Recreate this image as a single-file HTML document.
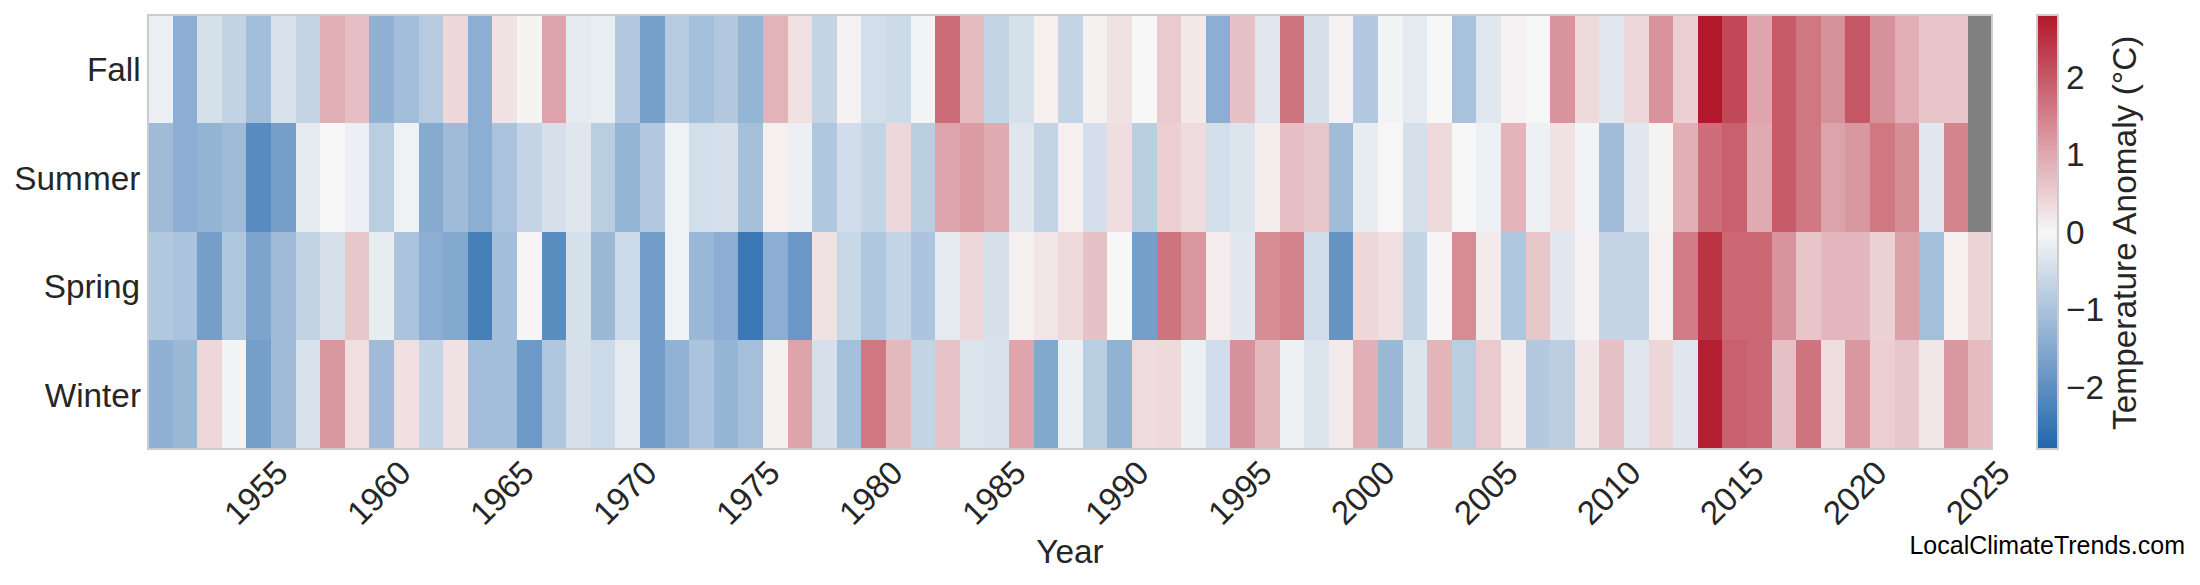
<!DOCTYPE html><html><head><meta charset="utf-8"><title>Seasonal Temperature Anomaly</title>
<style>html,body{margin:0;padding:0;background:#fff}body{width:2200px;height:585px;overflow:hidden;position:relative;font-family:"Liberation Sans",Arial,sans-serif;color:#262626}svg{position:absolute;left:0;top:0;display:block}text{font-family:"Liberation Sans",Arial,sans-serif;fill:#262626}</style></head><body>
<svg width="2200" height="585" viewBox="0 0 2200 585">
<defs><linearGradient id="cb" x1="0" y1="0" x2="0" y2="1"><stop offset="0" stop-color="#b2182b"/><stop offset="0.5" stop-color="#f7f7f7"/><stop offset="1" stop-color="#2166ac"/></linearGradient></defs>
<rect x="0" y="0" width="2200" height="585" fill="#fff"/>
<g shape-rendering="crispEdges">
<rect x="148" y="15" width="25" height="108" fill="#eceff3"/>
<rect x="173" y="15" width="24" height="108" fill="#8caed2"/>
<rect x="197" y="15" width="25" height="108" fill="#d5e0eb"/>
<rect x="222" y="15" width="24" height="108" fill="#c2d3e4"/>
<rect x="246" y="15" width="25" height="108" fill="#a3beda"/>
<rect x="271" y="15" width="25" height="108" fill="#d8e2ec"/>
<rect x="296" y="15" width="24" height="108" fill="#c5d5e6"/>
<rect x="320" y="15" width="25" height="108" fill="#e1afb5"/>
<rect x="345" y="15" width="24" height="108" fill="#e6bfc4"/>
<rect x="369" y="15" width="25" height="108" fill="#90b1d3"/>
<rect x="394" y="15" width="25" height="108" fill="#a3beda"/>
<rect x="419" y="15" width="24" height="108" fill="#b6cbe0"/>
<rect x="443" y="15" width="25" height="108" fill="#edd7da"/>
<rect x="468" y="15" width="24" height="108" fill="#8caed2"/>
<rect x="492" y="15" width="25" height="108" fill="#f1e3e5"/>
<rect x="517" y="15" width="25" height="108" fill="#f6f3f3"/>
<rect x="542" y="15" width="24" height="108" fill="#dda3aa"/>
<rect x="566" y="15" width="25" height="108" fill="#e4eaf0"/>
<rect x="591" y="15" width="24" height="108" fill="#e9eef2"/>
<rect x="615" y="15" width="25" height="108" fill="#b4c9df"/>
<rect x="640" y="15" width="25" height="108" fill="#77a0ca"/>
<rect x="665" y="15" width="24" height="108" fill="#b6cbe0"/>
<rect x="689" y="15" width="25" height="108" fill="#a4bfda"/>
<rect x="714" y="15" width="24" height="108" fill="#b2c8df"/>
<rect x="738" y="15" width="25" height="108" fill="#95b5d5"/>
<rect x="763" y="15" width="25" height="108" fill="#e2b3b9"/>
<rect x="788" y="15" width="24" height="108" fill="#f0e1e3"/>
<rect x="812" y="15" width="25" height="108" fill="#c3d4e5"/>
<rect x="837" y="15" width="24" height="108" fill="#f6f2f3"/>
<rect x="861" y="15" width="25" height="108" fill="#d2deea"/>
<rect x="886" y="15" width="25" height="108" fill="#cddbe8"/>
<rect x="911" y="15" width="24" height="108" fill="#f2f3f5"/>
<rect x="935" y="15" width="25" height="108" fill="#cc6c78"/>
<rect x="960" y="15" width="24" height="108" fill="#e5bbc0"/>
<rect x="984" y="15" width="25" height="108" fill="#c3d4e5"/>
<rect x="1009" y="15" width="25" height="108" fill="#d5e0eb"/>
<rect x="1034" y="15" width="24" height="108" fill="#f5eff0"/>
<rect x="1058" y="15" width="25" height="108" fill="#c3d4e5"/>
<rect x="1083" y="15" width="24" height="108" fill="#f5f1f1"/>
<rect x="1107" y="15" width="25" height="108" fill="#f0e1e3"/>
<rect x="1132" y="15" width="25" height="108" fill="#f7f7f7"/>
<rect x="1157" y="15" width="24" height="108" fill="#e9cbcf"/>
<rect x="1181" y="15" width="25" height="108" fill="#f3e9ea"/>
<rect x="1206" y="15" width="24" height="108" fill="#8caed2"/>
<rect x="1230" y="15" width="25" height="108" fill="#e6c1c5"/>
<rect x="1255" y="15" width="25" height="108" fill="#e0e7ef"/>
<rect x="1280" y="15" width="24" height="108" fill="#ce747f"/>
<rect x="1304" y="15" width="25" height="108" fill="#d5e0eb"/>
<rect x="1329" y="15" width="24" height="108" fill="#f6f2f3"/>
<rect x="1353" y="15" width="25" height="108" fill="#b4c9df"/>
<rect x="1378" y="15" width="25" height="108" fill="#f2f4f5"/>
<rect x="1403" y="15" width="24" height="108" fill="#e4eaf0"/>
<rect x="1427" y="15" width="25" height="108" fill="#f7f7f7"/>
<rect x="1452" y="15" width="24" height="108" fill="#a8c2db"/>
<rect x="1476" y="15" width="25" height="108" fill="#e0e7ef"/>
<rect x="1501" y="15" width="25" height="108" fill="#f6f2f3"/>
<rect x="1526" y="15" width="24" height="108" fill="#f5f6f6"/>
<rect x="1550" y="15" width="25" height="108" fill="#d8939c"/>
<rect x="1575" y="15" width="24" height="108" fill="#eed9db"/>
<rect x="1599" y="15" width="25" height="108" fill="#e0e7ef"/>
<rect x="1624" y="15" width="25" height="108" fill="#edd7da"/>
<rect x="1649" y="15" width="24" height="108" fill="#d8939c"/>
<rect x="1673" y="15" width="25" height="108" fill="#ebcfd3"/>
<rect x="1698" y="15" width="24" height="108" fill="#b2182b"/>
<rect x="1722" y="15" width="25" height="108" fill="#c14857"/>
<rect x="1747" y="15" width="25" height="108" fill="#dea5ac"/>
<rect x="1772" y="15" width="24" height="108" fill="#c75c69"/>
<rect x="1796" y="15" width="25" height="108" fill="#d07882"/>
<rect x="1821" y="15" width="24" height="108" fill="#d7919a"/>
<rect x="1845" y="15" width="25" height="108" fill="#c65865"/>
<rect x="1870" y="15" width="25" height="108" fill="#d7919a"/>
<rect x="1895" y="15" width="24" height="108" fill="#e1afb5"/>
<rect x="1919" y="15" width="25" height="108" fill="#e7c5c9"/>
<rect x="1944" y="15" width="24" height="108" fill="#e7c5c9"/>
<rect x="1968" y="15" width="25" height="108" fill="#808080"/>
<rect x="148" y="123" width="25" height="109" fill="#9fbbd8"/>
<rect x="173" y="123" width="24" height="109" fill="#8caed2"/>
<rect x="197" y="123" width="25" height="109" fill="#94b4d4"/>
<rect x="222" y="123" width="24" height="109" fill="#9fbbd8"/>
<rect x="246" y="123" width="25" height="109" fill="#588bbf"/>
<rect x="271" y="123" width="25" height="109" fill="#759fc9"/>
<rect x="296" y="123" width="24" height="109" fill="#e4eaf0"/>
<rect x="320" y="123" width="25" height="109" fill="#f7f7f7"/>
<rect x="345" y="123" width="24" height="109" fill="#eceff3"/>
<rect x="369" y="123" width="25" height="109" fill="#bacee2"/>
<rect x="394" y="123" width="25" height="109" fill="#eff2f4"/>
<rect x="419" y="123" width="24" height="109" fill="#87abd0"/>
<rect x="443" y="123" width="25" height="109" fill="#9fbbd8"/>
<rect x="468" y="123" width="24" height="109" fill="#8caed2"/>
<rect x="492" y="123" width="25" height="109" fill="#abc3dc"/>
<rect x="517" y="123" width="25" height="109" fill="#c5d5e6"/>
<rect x="542" y="123" width="24" height="109" fill="#d5e0eb"/>
<rect x="566" y="123" width="25" height="109" fill="#dfe6ee"/>
<rect x="591" y="123" width="24" height="109" fill="#bacee2"/>
<rect x="615" y="123" width="25" height="109" fill="#95b5d5"/>
<rect x="640" y="123" width="25" height="109" fill="#b4c9df"/>
<rect x="665" y="123" width="24" height="109" fill="#eff2f4"/>
<rect x="689" y="123" width="25" height="109" fill="#d2deea"/>
<rect x="714" y="123" width="24" height="109" fill="#d5e0eb"/>
<rect x="738" y="123" width="25" height="109" fill="#a5c0da"/>
<rect x="763" y="123" width="25" height="109" fill="#f5eff0"/>
<rect x="788" y="123" width="24" height="109" fill="#eceff3"/>
<rect x="812" y="123" width="25" height="109" fill="#aec6de"/>
<rect x="837" y="123" width="24" height="109" fill="#d1ddea"/>
<rect x="861" y="123" width="25" height="109" fill="#c3d4e5"/>
<rect x="886" y="123" width="25" height="109" fill="#edd7da"/>
<rect x="911" y="123" width="24" height="109" fill="#bacee2"/>
<rect x="935" y="123" width="25" height="109" fill="#dea5ac"/>
<rect x="960" y="123" width="24" height="109" fill="#db9ba3"/>
<rect x="984" y="123" width="25" height="109" fill="#dfaab0"/>
<rect x="1009" y="123" width="25" height="109" fill="#dfe6ee"/>
<rect x="1034" y="123" width="24" height="109" fill="#c3d4e5"/>
<rect x="1058" y="123" width="25" height="109" fill="#f5eff0"/>
<rect x="1083" y="123" width="24" height="109" fill="#d4dfeb"/>
<rect x="1107" y="123" width="25" height="109" fill="#efdddf"/>
<rect x="1132" y="123" width="25" height="109" fill="#bacee2"/>
<rect x="1157" y="123" width="24" height="109" fill="#ebcfd3"/>
<rect x="1181" y="123" width="25" height="109" fill="#eedbde"/>
<rect x="1206" y="123" width="24" height="109" fill="#d2deea"/>
<rect x="1230" y="123" width="25" height="109" fill="#dce5ee"/>
<rect x="1255" y="123" width="25" height="109" fill="#f4edee"/>
<rect x="1280" y="123" width="24" height="109" fill="#e6bfc4"/>
<rect x="1304" y="123" width="25" height="109" fill="#e8c7cb"/>
<rect x="1329" y="123" width="24" height="109" fill="#a1bcd9"/>
<rect x="1353" y="123" width="25" height="109" fill="#e8edf2"/>
<rect x="1378" y="123" width="25" height="109" fill="#f7f5f6"/>
<rect x="1403" y="123" width="24" height="109" fill="#d5e0eb"/>
<rect x="1427" y="123" width="25" height="109" fill="#eed9db"/>
<rect x="1452" y="123" width="24" height="109" fill="#f7f7f7"/>
<rect x="1476" y="123" width="25" height="109" fill="#eef1f4"/>
<rect x="1501" y="123" width="25" height="109" fill="#e3b5bb"/>
<rect x="1526" y="123" width="24" height="109" fill="#eef1f4"/>
<rect x="1550" y="123" width="25" height="109" fill="#f0e1e3"/>
<rect x="1575" y="123" width="24" height="109" fill="#f1f3f5"/>
<rect x="1599" y="123" width="25" height="109" fill="#a1bcd9"/>
<rect x="1624" y="123" width="25" height="109" fill="#e0e7ef"/>
<rect x="1649" y="123" width="24" height="109" fill="#f6f3f3"/>
<rect x="1673" y="123" width="25" height="109" fill="#e1afb5"/>
<rect x="1698" y="123" width="24" height="109" fill="#cd6e7a"/>
<rect x="1722" y="123" width="25" height="109" fill="#c8606d"/>
<rect x="1747" y="123" width="25" height="109" fill="#dfaab0"/>
<rect x="1772" y="123" width="24" height="109" fill="#c75c69"/>
<rect x="1796" y="123" width="25" height="109" fill="#d07882"/>
<rect x="1821" y="123" width="24" height="109" fill="#dda3aa"/>
<rect x="1845" y="123" width="25" height="109" fill="#d997a0"/>
<rect x="1870" y="123" width="25" height="109" fill="#d07882"/>
<rect x="1895" y="123" width="24" height="109" fill="#d68d96"/>
<rect x="1919" y="123" width="25" height="109" fill="#e2e8f0"/>
<rect x="1944" y="123" width="24" height="109" fill="#d3848d"/>
<rect x="1968" y="123" width="25" height="109" fill="#808080"/>
<rect x="148" y="232" width="25" height="108" fill="#b2c8df"/>
<rect x="173" y="232" width="24" height="108" fill="#abc3dc"/>
<rect x="197" y="232" width="25" height="108" fill="#759fc9"/>
<rect x="222" y="232" width="24" height="108" fill="#aec6de"/>
<rect x="246" y="232" width="25" height="108" fill="#7da4cc"/>
<rect x="271" y="232" width="25" height="108" fill="#9fbbd8"/>
<rect x="296" y="232" width="24" height="108" fill="#c2d3e4"/>
<rect x="320" y="232" width="25" height="108" fill="#d5e0eb"/>
<rect x="345" y="232" width="24" height="108" fill="#e8c7cb"/>
<rect x="369" y="232" width="25" height="108" fill="#e8edf2"/>
<rect x="394" y="232" width="25" height="108" fill="#abc3dc"/>
<rect x="419" y="232" width="24" height="108" fill="#8caed2"/>
<rect x="443" y="232" width="25" height="108" fill="#84a9cf"/>
<rect x="468" y="232" width="24" height="108" fill="#4780b9"/>
<rect x="492" y="232" width="25" height="108" fill="#a3beda"/>
<rect x="517" y="232" width="25" height="108" fill="#f6f4f4"/>
<rect x="542" y="232" width="24" height="108" fill="#5a8dc0"/>
<rect x="566" y="232" width="25" height="108" fill="#d5e0eb"/>
<rect x="591" y="232" width="24" height="108" fill="#9bb9d7"/>
<rect x="615" y="232" width="25" height="108" fill="#cbd9e8"/>
<rect x="640" y="232" width="25" height="108" fill="#739dc9"/>
<rect x="665" y="232" width="24" height="108" fill="#eff2f4"/>
<rect x="689" y="232" width="25" height="108" fill="#99b7d6"/>
<rect x="714" y="232" width="24" height="108" fill="#8caed2"/>
<rect x="738" y="232" width="25" height="108" fill="#3c78b5"/>
<rect x="763" y="232" width="25" height="108" fill="#8caed2"/>
<rect x="788" y="232" width="24" height="108" fill="#6b98c6"/>
<rect x="812" y="232" width="25" height="108" fill="#f0e1e3"/>
<rect x="837" y="232" width="24" height="108" fill="#c8d7e6"/>
<rect x="861" y="232" width="25" height="108" fill="#aec6de"/>
<rect x="886" y="232" width="25" height="108" fill="#c3d4e5"/>
<rect x="911" y="232" width="24" height="108" fill="#acc4dd"/>
<rect x="935" y="232" width="25" height="108" fill="#e4eaf0"/>
<rect x="960" y="232" width="24" height="108" fill="#edd7da"/>
<rect x="984" y="232" width="25" height="108" fill="#d7e1ec"/>
<rect x="1009" y="232" width="25" height="108" fill="#f5eff0"/>
<rect x="1034" y="232" width="24" height="108" fill="#f2e5e7"/>
<rect x="1058" y="232" width="25" height="108" fill="#eed9db"/>
<rect x="1083" y="232" width="24" height="108" fill="#e6c1c5"/>
<rect x="1107" y="232" width="25" height="108" fill="#f7f7f7"/>
<rect x="1132" y="232" width="25" height="108" fill="#759fc9"/>
<rect x="1157" y="232" width="24" height="108" fill="#ce747f"/>
<rect x="1181" y="232" width="25" height="108" fill="#d997a0"/>
<rect x="1206" y="232" width="24" height="108" fill="#f3ebec"/>
<rect x="1230" y="232" width="25" height="108" fill="#e2e8f0"/>
<rect x="1255" y="232" width="25" height="108" fill="#d68d96"/>
<rect x="1280" y="232" width="24" height="108" fill="#d3818b"/>
<rect x="1304" y="232" width="25" height="108" fill="#d1ddea"/>
<rect x="1329" y="232" width="24" height="108" fill="#6695c4"/>
<rect x="1353" y="232" width="25" height="108" fill="#edd7da"/>
<rect x="1378" y="232" width="25" height="108" fill="#f0dfe1"/>
<rect x="1403" y="232" width="24" height="108" fill="#c3d4e5"/>
<rect x="1427" y="232" width="25" height="108" fill="#f6f4f4"/>
<rect x="1452" y="232" width="24" height="108" fill="#d68b95"/>
<rect x="1476" y="232" width="25" height="108" fill="#f3eaeb"/>
<rect x="1501" y="232" width="25" height="108" fill="#aec6de"/>
<rect x="1526" y="232" width="24" height="108" fill="#e8c7cb"/>
<rect x="1550" y="232" width="25" height="108" fill="#e0e7ef"/>
<rect x="1575" y="232" width="24" height="108" fill="#f6f2f3"/>
<rect x="1599" y="232" width="25" height="108" fill="#c5d5e5"/>
<rect x="1624" y="232" width="25" height="108" fill="#c5d5e5"/>
<rect x="1649" y="232" width="24" height="108" fill="#f5eff0"/>
<rect x="1673" y="232" width="25" height="108" fill="#d17c86"/>
<rect x="1698" y="232" width="24" height="108" fill="#bb3444"/>
<rect x="1722" y="232" width="25" height="108" fill="#cb6874"/>
<rect x="1747" y="232" width="25" height="108" fill="#cb6874"/>
<rect x="1772" y="232" width="24" height="108" fill="#d8939c"/>
<rect x="1796" y="232" width="25" height="108" fill="#e7c5c9"/>
<rect x="1821" y="232" width="24" height="108" fill="#e3b7bd"/>
<rect x="1845" y="232" width="25" height="108" fill="#e3b7bd"/>
<rect x="1870" y="232" width="25" height="108" fill="#ebd2d5"/>
<rect x="1895" y="232" width="24" height="108" fill="#dda2a9"/>
<rect x="1919" y="232" width="25" height="108" fill="#a4bfda"/>
<rect x="1944" y="232" width="24" height="108" fill="#f5eff0"/>
<rect x="1968" y="232" width="25" height="108" fill="#ecd3d6"/>
<rect x="148" y="340" width="25" height="109" fill="#90b1d3"/>
<rect x="173" y="340" width="24" height="109" fill="#9bb9d7"/>
<rect x="197" y="340" width="25" height="109" fill="#edd7da"/>
<rect x="222" y="340" width="24" height="109" fill="#f3f4f6"/>
<rect x="246" y="340" width="25" height="109" fill="#759fc9"/>
<rect x="271" y="340" width="25" height="109" fill="#9fbbd8"/>
<rect x="296" y="340" width="24" height="109" fill="#d8e2ec"/>
<rect x="320" y="340" width="25" height="109" fill="#d997a0"/>
<rect x="345" y="340" width="24" height="109" fill="#f0dfe1"/>
<rect x="369" y="340" width="25" height="109" fill="#9fbbd8"/>
<rect x="394" y="340" width="25" height="109" fill="#f0dfe1"/>
<rect x="419" y="340" width="24" height="109" fill="#c5d5e6"/>
<rect x="443" y="340" width="25" height="109" fill="#f1e3e5"/>
<rect x="468" y="340" width="24" height="109" fill="#a3beda"/>
<rect x="492" y="340" width="25" height="109" fill="#a3beda"/>
<rect x="517" y="340" width="25" height="109" fill="#6d9ac7"/>
<rect x="542" y="340" width="24" height="109" fill="#aec6de"/>
<rect x="566" y="340" width="25" height="109" fill="#d5e0eb"/>
<rect x="591" y="340" width="24" height="109" fill="#cbd9e8"/>
<rect x="615" y="340" width="25" height="109" fill="#e4eaf0"/>
<rect x="640" y="340" width="25" height="109" fill="#739dc9"/>
<rect x="665" y="340" width="24" height="109" fill="#91b2d3"/>
<rect x="689" y="340" width="25" height="109" fill="#abc3dc"/>
<rect x="714" y="340" width="24" height="109" fill="#95b5d5"/>
<rect x="738" y="340" width="25" height="109" fill="#a4bfda"/>
<rect x="763" y="340" width="25" height="109" fill="#f5f1f1"/>
<rect x="788" y="340" width="24" height="109" fill="#dda3aa"/>
<rect x="812" y="340" width="25" height="109" fill="#d5e0eb"/>
<rect x="837" y="340" width="24" height="109" fill="#a4bfda"/>
<rect x="861" y="340" width="25" height="109" fill="#d07882"/>
<rect x="886" y="340" width="25" height="109" fill="#e4b9be"/>
<rect x="911" y="340" width="24" height="109" fill="#c3d4e5"/>
<rect x="935" y="340" width="25" height="109" fill="#e7c3c8"/>
<rect x="960" y="340" width="24" height="109" fill="#dce5ee"/>
<rect x="984" y="340" width="25" height="109" fill="#d8e2ec"/>
<rect x="1009" y="340" width="25" height="109" fill="#dea5ac"/>
<rect x="1034" y="340" width="24" height="109" fill="#83a8ce"/>
<rect x="1058" y="340" width="25" height="109" fill="#ecf0f3"/>
<rect x="1083" y="340" width="24" height="109" fill="#bacee2"/>
<rect x="1107" y="340" width="25" height="109" fill="#91b2d3"/>
<rect x="1132" y="340" width="25" height="109" fill="#eedbde"/>
<rect x="1157" y="340" width="24" height="109" fill="#eed9db"/>
<rect x="1181" y="340" width="25" height="109" fill="#ecf0f3"/>
<rect x="1206" y="340" width="24" height="109" fill="#d1ddea"/>
<rect x="1230" y="340" width="25" height="109" fill="#d7919a"/>
<rect x="1255" y="340" width="25" height="109" fill="#e4b9be"/>
<rect x="1280" y="340" width="24" height="109" fill="#eef1f4"/>
<rect x="1304" y="340" width="25" height="109" fill="#dce5ee"/>
<rect x="1329" y="340" width="24" height="109" fill="#f3eaeb"/>
<rect x="1353" y="340" width="25" height="109" fill="#e1afb5"/>
<rect x="1378" y="340" width="25" height="109" fill="#9bb9d7"/>
<rect x="1403" y="340" width="24" height="109" fill="#dce5ee"/>
<rect x="1427" y="340" width="25" height="109" fill="#e3b5bb"/>
<rect x="1452" y="340" width="24" height="109" fill="#bacee2"/>
<rect x="1476" y="340" width="25" height="109" fill="#e9cbcf"/>
<rect x="1501" y="340" width="25" height="109" fill="#f4edee"/>
<rect x="1526" y="340" width="24" height="109" fill="#b4c9df"/>
<rect x="1550" y="340" width="25" height="109" fill="#bccfe2"/>
<rect x="1575" y="340" width="24" height="109" fill="#f2e7e8"/>
<rect x="1599" y="340" width="25" height="109" fill="#e6c1c5"/>
<rect x="1624" y="340" width="25" height="109" fill="#dfe6ee"/>
<rect x="1649" y="340" width="24" height="109" fill="#edd6d8"/>
<rect x="1673" y="340" width="25" height="109" fill="#dfe6ee"/>
<rect x="1698" y="340" width="24" height="109" fill="#b41e31"/>
<rect x="1722" y="340" width="25" height="109" fill="#c8606d"/>
<rect x="1747" y="340" width="25" height="109" fill="#cb6874"/>
<rect x="1772" y="340" width="24" height="109" fill="#e6c1c5"/>
<rect x="1796" y="340" width="25" height="109" fill="#ce747f"/>
<rect x="1821" y="340" width="24" height="109" fill="#efdee0"/>
<rect x="1845" y="340" width="25" height="109" fill="#d997a0"/>
<rect x="1870" y="340" width="25" height="109" fill="#ebcfd3"/>
<rect x="1895" y="340" width="24" height="109" fill="#e8c7cb"/>
<rect x="1919" y="340" width="25" height="109" fill="#f2e7e8"/>
<rect x="1944" y="340" width="24" height="109" fill="#d997a0"/>
<rect x="1968" y="340" width="25" height="109" fill="#e5bbc0"/>
</g>
<rect x="148" y="15" width="1844" height="434" fill="none" stroke="#cccccc" stroke-width="2" shape-rendering="crispEdges"/>
<rect x="2037" y="15" width="21" height="434" fill="url(#cb)" stroke="#cccccc" stroke-width="2" shape-rendering="crispEdges"/>
<text x="140.60" y="80.85" font-size="33.33" text-anchor="end">Fall</text>
<text x="140.30" y="190.30" font-size="33.33" text-anchor="end">Summer</text>
<text x="140.00" y="297.85" font-size="33.33" text-anchor="end">Spring</text>
<text x="141.00" y="406.90" font-size="33.33" text-anchor="end">Winter</text>
<text font-size="33.33" text-anchor="middle" transform="translate(263.9,501.0) rotate(-45)" x="0" y="0" letter-spacing="-0.3">1955</text>
<text font-size="33.33" text-anchor="middle" transform="translate(386.9,501.0) rotate(-45)" x="0" y="0" letter-spacing="-0.3">1960</text>
<text font-size="33.33" text-anchor="middle" transform="translate(509.9,501.0) rotate(-45)" x="0" y="0" letter-spacing="-0.3">1965</text>
<text font-size="33.33" text-anchor="middle" transform="translate(632.9,501.0) rotate(-45)" x="0" y="0" letter-spacing="-0.3">1970</text>
<text font-size="33.33" text-anchor="middle" transform="translate(755.9,501.0) rotate(-45)" x="0" y="0" letter-spacing="-0.3">1975</text>
<text font-size="33.33" text-anchor="middle" transform="translate(878.9,501.0) rotate(-45)" x="0" y="0" letter-spacing="-0.3">1980</text>
<text font-size="33.33" text-anchor="middle" transform="translate(1001.9,501.0) rotate(-45)" x="0" y="0" letter-spacing="-0.3">1985</text>
<text font-size="33.33" text-anchor="middle" transform="translate(1124.9,501.0) rotate(-45)" x="0" y="0" letter-spacing="-0.3">1990</text>
<text font-size="33.33" text-anchor="middle" transform="translate(1247.9,501.0) rotate(-45)" x="0" y="0" letter-spacing="-0.3">1995</text>
<text font-size="33.33" text-anchor="middle" transform="translate(1370.9,501.0) rotate(-45)" x="0" y="0" letter-spacing="-0.3">2000</text>
<text font-size="33.33" text-anchor="middle" transform="translate(1493.9,501.0) rotate(-45)" x="0" y="0" letter-spacing="-0.3">2005</text>
<text font-size="33.33" text-anchor="middle" transform="translate(1616.9,501.0) rotate(-45)" x="0" y="0" letter-spacing="-0.3">2010</text>
<text font-size="33.33" text-anchor="middle" transform="translate(1739.9,501.0) rotate(-45)" x="0" y="0" letter-spacing="-0.3">2015</text>
<text font-size="33.33" text-anchor="middle" transform="translate(1862.9,501.0) rotate(-45)" x="0" y="0" letter-spacing="-0.3">2020</text>
<text font-size="33.33" text-anchor="middle" transform="translate(1985.9,501.0) rotate(-45)" x="0" y="0" letter-spacing="-0.3">2025</text>
<text x="1070" y="563" font-size="33.33" text-anchor="middle">Year</text>
<text x="2066" y="398.6" font-size="33.33">−2</text>
<text x="2066" y="321.1" font-size="33.33">−1</text>
<text x="2066" y="243.6" font-size="33.33">0</text>
<text x="2066" y="166.1" font-size="33.33">1</text>
<text x="2066" y="88.6" font-size="33.33">2</text>
<text font-size="33.33" text-anchor="middle" letter-spacing="0.06" transform="translate(2136,232.75) rotate(-90)">Temperature Anomaly (°C)</text>
<text x="2185" y="554" font-size="25" text-anchor="end" fill="#000000" style="fill:#000">LocalClimateTrends.com</text>
</svg></body></html>
